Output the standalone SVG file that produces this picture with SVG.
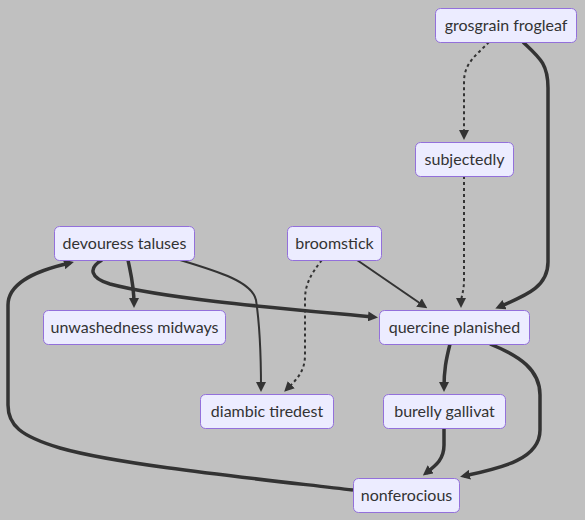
<svg xmlns="http://www.w3.org/2000/svg" width="585" height="520" viewBox="0 0 585 520">
<style>
.node rect{fill:#ECECFF;stroke:#9370DB;stroke-width:1}
.node text{font-family:Lato,"Liberation Sans",sans-serif;font-size:16px;fill:#333;text-anchor:middle}
.e{fill:none;stroke:#333}
.n{stroke-width:2}
.t{stroke-width:3.5}
.d{stroke-width:2;stroke-dasharray:3 3}
</style>
<defs>
<marker id="ah" markerUnits="userSpaceOnUse" viewBox="0 0 10 10" refX="6" refY="5" markerWidth="10" markerHeight="10" orient="auto">
<path d="M0,0 L10,5 L0,10 z" fill="#333"/>
</marker>
</defs>
<rect width="585" height="520" fill="#c0c0c0"/>
<g id="edges">
<path class="e d" d="M489,42 C478,54 464,62 464,82 L464,136" marker-end="url(#ah)"/>
<path class="e t" d="M523,42 C540,58 548,64 548,88 L548,262 C548,288 524,296 499,307" marker-end="url(#ah)"/>
<path class="e d" d="M464,176 L464,280 C464,292 461,296 461,304" marker-end="url(#ah)"/>
<path class="e t" d="M128,260 C131,275 134,285 134,304" marker-end="url(#ah)"/>
<path class="e t" d="M102,260 C88,268 90,278 110,284 C170,300 300,310 374,317" marker-end="url(#ah)"/>
<path class="e n" d="M180,260 C220,272 252,282 256,300 C259,320 261,350 261,388" marker-end="url(#ah)"/>
<path class="e d" d="M322,260 C310,275 305,285 305,300 L305,355 C305,372 296,380 287,389" marker-end="url(#ah)"/>
<path class="e n" d="M357,260 L424,306" marker-end="url(#ah)"/>
<path class="e t" d="M450,344 C446,360 444,370 444,388" marker-end="url(#ah)"/>
<path class="e t" d="M490,344 C520,356 540,370 540,395 L540,430 C540,460 500,468 464,476" marker-end="url(#ah)"/>
<path class="e t" d="M444,428 L444,445 C444,460 435,466 426,473" marker-end="url(#ah)"/>
<path class="e t" d="M353,490 C250,478 120,465 60,448 C20,436 8,425 8,405 L8,305 C8,285 30,272 70,263" marker-end="url(#ah)"/>
</g>
<g id="grosgrain" class="node"><rect x="435.5" y="8.5" width="141" height="34" rx="5"/><text x="506" y="31">grosgrain frogleaf</text></g>
<g id="subjectedly" class="node"><rect x="415.5" y="142.5" width="98" height="34" rx="5"/><text x="464.5" y="165">subjectedly</text></g>
<g id="devouress" class="node"><rect x="54.5" y="226.5" width="140" height="34" rx="5"/><text x="124.5" y="249">devouress taluses</text></g>
<g id="broomstick" class="node"><rect x="287.5" y="226.5" width="94" height="34" rx="5"/><text x="334.5" y="249">broomstick</text></g>
<g id="unwashedness" class="node"><rect x="43.5" y="310.5" width="182" height="34" rx="5"/><text x="134.5" y="333">unwashedness midways</text></g>
<g id="quercine" class="node"><rect x="379.5" y="310.5" width="150" height="34" rx="5"/><text x="454.5" y="333">quercine planished</text></g>
<g id="diambic" class="node"><rect x="200.5" y="394.5" width="133" height="34" rx="5"/><text x="267" y="417">diambic tiredest</text></g>
<g id="burelly" class="node"><rect x="383.5" y="394.5" width="122" height="34" rx="5"/><text x="444.5" y="417">burelly gallivat</text></g>
<g id="nonferocious" class="node"><rect x="353.5" y="478.5" width="106" height="34" rx="5"/><text x="406.5" y="501">nonferocious</text></g>
</svg>
